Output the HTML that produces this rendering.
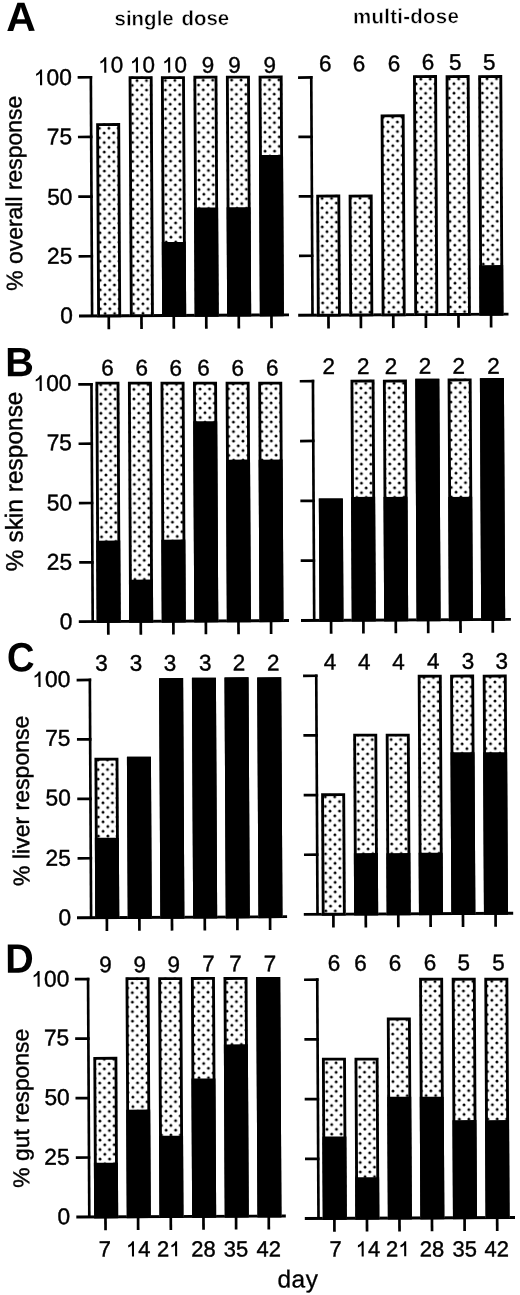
<!DOCTYPE html>
<html><head><meta charset="utf-8"><style>
html,body{margin:0;padding:0;background:#fff;}
body{width:520px;height:1295px;overflow:hidden;}
svg{display:block;font-family:"Liberation Sans", sans-serif;filter:grayscale(1);}
</style></head><body>
<svg width="520" height="1295" viewBox="0 0 520 1295">
<rect width="520" height="1295" fill="#fff"/>
<defs><pattern id="dots" x="106.89" y="132.19" width="9.46" height="9.5" patternUnits="userSpaceOnUse"><circle cx="0" cy="0" r="1.45"/><circle cx="9.46" cy="0" r="1.45"/><circle cx="0" cy="9.5" r="1.45"/><circle cx="9.46" cy="9.5" r="1.45"/><circle cx="4.73" cy="4.75" r="1.45"/></pattern></defs>
<g transform="rotate(-0.3 260 647)" fill="#000">
<g><line x1="93.84" y1="75.04" x2="93.84" y2="315.03" stroke="#000" stroke-width="2.65"/>
<line x1="80.64" y1="76.39" x2="95.16" y2="76.39" stroke="#000" stroke-width="2.7"/>
<line x1="80.64" y1="136.05" x2="95.16" y2="136.05" stroke="#000" stroke-width="2.7"/>
<line x1="80.64" y1="195.71" x2="95.16" y2="195.71" stroke="#000" stroke-width="2.7"/>
<line x1="80.64" y1="255.37" x2="95.16" y2="255.37" stroke="#000" stroke-width="2.7"/>
<line x1="80.74" y1="315.03" x2="290.73" y2="315.03" stroke="#000" stroke-width="2.9"/>
<line x1="110.5" y1="315.03" x2="110.5" y2="328.38" stroke="#000" stroke-width="2.7"/>
<rect x="98.9" y="122.32" width="24" height="192.71" fill="#fff"/>
<rect x="99.2" y="122.62" width="23.4" height="192.41" fill="url(#dots)"/>
<rect x="100.33" y="123.74" width="21.15" height="191.28" fill="none" stroke="#000" stroke-width="2.85"/>
<line x1="143.2" y1="315.03" x2="143.2" y2="328.38" stroke="#000" stroke-width="2.7"/>
<rect x="131.6" y="75.59" width="24" height="239.44" fill="#fff"/>
<rect x="131.9" y="75.89" width="23.4" height="239.14" fill="url(#dots)"/>
<rect x="133.03" y="77.01" width="21.15" height="238.01" fill="none" stroke="#000" stroke-width="2.85"/>
<line x1="175.5" y1="315.03" x2="175.5" y2="328.38" stroke="#000" stroke-width="2.7"/>
<rect x="163.9" y="75.76" width="24" height="239.27" fill="#fff"/>
<rect x="164.2" y="76.06" width="23.4" height="238.97" fill="url(#dots)"/>
<rect x="163.9" y="241.55" width="24" height="73.47"/>
<rect x="165.33" y="77.18" width="21.15" height="237.84" fill="none" stroke="#000" stroke-width="2.85"/>
<line x1="208" y1="315.03" x2="208" y2="328.38" stroke="#000" stroke-width="2.7"/>
<rect x="196.4" y="75.53" width="24" height="239.5" fill="#fff"/>
<rect x="196.7" y="75.83" width="23.4" height="239.2" fill="url(#dots)"/>
<rect x="196.4" y="207.22" width="24" height="107.8"/>
<rect x="197.83" y="76.95" width="21.15" height="238.07" fill="none" stroke="#000" stroke-width="2.85"/>
<line x1="240.5" y1="315.03" x2="240.5" y2="328.38" stroke="#000" stroke-width="2.7"/>
<rect x="228.9" y="75.6" width="24" height="239.43" fill="#fff"/>
<rect x="229.2" y="75.9" width="23.4" height="239.13" fill="url(#dots)"/>
<rect x="228.9" y="207.1" width="24" height="107.93"/>
<rect x="230.33" y="77.02" width="21.15" height="238" fill="none" stroke="#000" stroke-width="2.85"/>
<line x1="273.2" y1="315.03" x2="273.2" y2="328.38" stroke="#000" stroke-width="2.7"/>
<rect x="261.6" y="75.67" width="24" height="239.36" fill="#fff"/>
<rect x="261.9" y="75.97" width="23.4" height="239.06" fill="url(#dots)"/>
<rect x="261.6" y="155.07" width="24" height="159.96"/>
<rect x="263.03" y="77.09" width="21.15" height="237.93" fill="none" stroke="#000" stroke-width="2.85"/>
<path transform="translate(101.2 71.83) scale(22.5 -22.5)" d="M0.268 0H0.362V0.688H0.288C0.252 0.608 0.185 0.54 0.1 0.505V0.41C0.17 0.435 0.23 0.475 0.268 0.522Z"/><text x="113.71" y="71.83" font-size="22.5" stroke="#000" stroke-width="0.4">0</text>
<path transform="translate(132.9 71.99) scale(22.5 -22.5)" d="M0.268 0H0.362V0.688H0.288C0.252 0.608 0.185 0.54 0.1 0.505V0.41C0.17 0.435 0.23 0.475 0.268 0.522Z"/><text x="145.41" y="71.99" font-size="22.5" stroke="#000" stroke-width="0.4">0</text>
<path transform="translate(165.1 72.16) scale(22.5 -22.5)" d="M0.268 0H0.362V0.688H0.288C0.252 0.608 0.185 0.54 0.1 0.505V0.41C0.17 0.435 0.23 0.475 0.268 0.522Z"/><text x="177.61" y="72.16" font-size="22.5" stroke="#000" stroke-width="0.4">0</text>
<text x="204.75" y="72.34" font-size="22.5" stroke="#000" stroke-width="0.4">9</text>
<text x="231.25" y="72.47" font-size="22.5" stroke="#000" stroke-width="0.4">9</text>
<text x="266.55" y="72.66" font-size="22.5" stroke="#000" stroke-width="0.4">9</text>
<path transform="translate(36.85 84.07) scale(22.8 -22.8)" d="M0.268 0H0.362V0.688H0.288C0.252 0.608 0.185 0.54 0.1 0.505V0.41C0.17 0.435 0.23 0.475 0.268 0.522Z"/><text x="49.53" y="84.07" font-size="22.8" stroke="#000" stroke-width="0.4">0</text><text x="62.2" y="84.07" font-size="22.8" stroke="#000" stroke-width="0.4">0</text>
<text x="49.34" y="143.29" font-size="22.8" stroke="#000" stroke-width="0.4">7</text><text x="62.02" y="143.29" font-size="22.8" stroke="#000" stroke-width="0.4">5</text>
<text x="49.47" y="203.61" font-size="22.8" stroke="#000" stroke-width="0.4">5</text><text x="62.15" y="203.61" font-size="22.8" stroke="#000" stroke-width="0.4">0</text>
<text x="49.08" y="262.6" font-size="22.8" stroke="#000" stroke-width="0.4">2</text><text x="61.75" y="262.6" font-size="22.8" stroke="#000" stroke-width="0.4">5</text>
<text x="61.97" y="322.14" font-size="22.8" stroke="#000" stroke-width="0.4">0</text>
<line x1="314.24" y1="76.4" x2="314.24" y2="315.48" stroke="#000" stroke-width="2.65"/>
<line x1="301.04" y1="77.75" x2="315.56" y2="77.75" stroke="#000" stroke-width="2.7"/>
<line x1="301.04" y1="137.18" x2="315.56" y2="137.18" stroke="#000" stroke-width="2.7"/>
<line x1="301.04" y1="196.61" x2="315.56" y2="196.61" stroke="#000" stroke-width="2.7"/>
<line x1="301.04" y1="256.05" x2="315.56" y2="256.05" stroke="#000" stroke-width="2.7"/>
<line x1="299.94" y1="315.48" x2="510.23" y2="315.48" stroke="#000" stroke-width="2.9"/>
<line x1="330.2" y1="315.48" x2="330.2" y2="328.83" stroke="#000" stroke-width="2.7"/>
<rect x="318.6" y="194.96" width="24" height="120.51" fill="#fff"/>
<rect x="318.9" y="195.26" width="23.4" height="120.21" fill="url(#dots)"/>
<rect x="320.03" y="196.39" width="21.15" height="119.09" fill="none" stroke="#000" stroke-width="2.85"/>
<line x1="362.6" y1="315.48" x2="362.6" y2="328.83" stroke="#000" stroke-width="2.7"/>
<rect x="351" y="195.13" width="24" height="120.34" fill="#fff"/>
<rect x="351.3" y="195.43" width="23.4" height="120.04" fill="url(#dots)"/>
<rect x="352.43" y="196.56" width="21.15" height="118.92" fill="none" stroke="#000" stroke-width="2.85"/>
<line x1="395" y1="315.48" x2="395" y2="328.83" stroke="#000" stroke-width="2.7"/>
<rect x="383.4" y="115.11" width="24" height="200.37" fill="#fff"/>
<rect x="383.7" y="115.41" width="23.4" height="200.07" fill="url(#dots)"/>
<rect x="384.83" y="116.53" width="21.15" height="198.95" fill="none" stroke="#000" stroke-width="2.85"/>
<line x1="427.6" y1="315.48" x2="427.6" y2="328.83" stroke="#000" stroke-width="2.7"/>
<rect x="416" y="75.98" width="24" height="239.5" fill="#fff"/>
<rect x="416.3" y="76.28" width="23.4" height="239.2" fill="url(#dots)"/>
<rect x="417.43" y="77.4" width="21.15" height="238.08" fill="none" stroke="#000" stroke-width="2.85"/>
<line x1="460.2" y1="315.48" x2="460.2" y2="328.83" stroke="#000" stroke-width="2.7"/>
<rect x="448.6" y="76.15" width="24" height="239.33" fill="#fff"/>
<rect x="448.9" y="76.45" width="23.4" height="239.03" fill="url(#dots)"/>
<rect x="450.03" y="77.57" width="21.15" height="237.91" fill="none" stroke="#000" stroke-width="2.85"/>
<line x1="492.8" y1="315.48" x2="492.8" y2="328.83" stroke="#000" stroke-width="2.7"/>
<rect x="481.2" y="76.32" width="24" height="239.16" fill="#fff"/>
<rect x="481.5" y="76.62" width="23.4" height="238.86" fill="url(#dots)"/>
<rect x="481.2" y="266.32" width="24" height="49.16"/>
<rect x="482.63" y="77.74" width="21.15" height="237.74" fill="none" stroke="#000" stroke-width="2.85"/>
<text x="322.06" y="71.65" font-size="22.5" stroke="#000" stroke-width="0.4">6</text>
<text x="355.76" y="71.83" font-size="22.5" stroke="#000" stroke-width="0.4">6</text>
<text x="390.66" y="72.01" font-size="22.5" stroke="#000" stroke-width="0.4">6</text>
<text x="424.66" y="70.69" font-size="22.5" stroke="#000" stroke-width="0.4">6</text>
<text x="451.96" y="70.83" font-size="22.5" stroke="#000" stroke-width="0.4">5</text>
<text x="486.06" y="71.01" font-size="22.5" stroke="#000" stroke-width="0.4">5</text>
<line x1="92.84" y1="382.14" x2="92.84" y2="620.72" stroke="#000" stroke-width="2.65"/>
<line x1="79.64" y1="383.49" x2="94.16" y2="383.49" stroke="#000" stroke-width="2.7"/>
<line x1="79.64" y1="442.8" x2="94.16" y2="442.8" stroke="#000" stroke-width="2.7"/>
<line x1="79.64" y1="502.11" x2="94.16" y2="502.11" stroke="#000" stroke-width="2.7"/>
<line x1="79.64" y1="561.42" x2="94.16" y2="561.42" stroke="#000" stroke-width="2.7"/>
<line x1="78.94" y1="620.72" x2="289.13" y2="620.72" stroke="#000" stroke-width="2.9"/>
<line x1="108.4" y1="620.72" x2="108.4" y2="634.07" stroke="#000" stroke-width="2.7"/>
<rect x="96.8" y="380.91" width="24" height="239.82" fill="#fff"/>
<rect x="97.1" y="381.21" width="23.4" height="239.52" fill="url(#dots)"/>
<rect x="96.8" y="539.81" width="24" height="80.92"/>
<rect x="98.23" y="382.33" width="21.15" height="238.39" fill="none" stroke="#000" stroke-width="2.85"/>
<line x1="140.9" y1="620.72" x2="140.9" y2="634.07" stroke="#000" stroke-width="2.7"/>
<rect x="129.3" y="381.08" width="24" height="239.64" fill="#fff"/>
<rect x="129.6" y="381.38" width="23.4" height="239.34" fill="url(#dots)"/>
<rect x="129.3" y="578.98" width="24" height="41.75"/>
<rect x="130.73" y="382.5" width="21.15" height="238.22" fill="none" stroke="#000" stroke-width="2.85"/>
<line x1="173.5" y1="620.72" x2="173.5" y2="634.07" stroke="#000" stroke-width="2.7"/>
<rect x="161.9" y="381.25" width="24" height="239.47" fill="#fff"/>
<rect x="162.2" y="381.55" width="23.4" height="239.17" fill="url(#dots)"/>
<rect x="161.9" y="539.15" width="24" height="81.58"/>
<rect x="163.33" y="382.68" width="21.15" height="238.05" fill="none" stroke="#000" stroke-width="2.85"/>
<line x1="206" y1="620.72" x2="206" y2="634.07" stroke="#000" stroke-width="2.7"/>
<rect x="194.4" y="381.42" width="24" height="239.3" fill="#fff"/>
<rect x="194.7" y="381.72" width="23.4" height="239" fill="url(#dots)"/>
<rect x="194.4" y="420.92" width="24" height="199.8"/>
<rect x="195.83" y="382.85" width="21.15" height="237.88" fill="none" stroke="#000" stroke-width="2.85"/>
<line x1="238.6" y1="620.72" x2="238.6" y2="634.07" stroke="#000" stroke-width="2.7"/>
<rect x="227" y="381.59" width="24" height="239.13" fill="#fff"/>
<rect x="227.3" y="381.89" width="23.4" height="238.83" fill="url(#dots)"/>
<rect x="227" y="459.49" width="24" height="161.23"/>
<rect x="228.43" y="383.02" width="21.15" height="237.71" fill="none" stroke="#000" stroke-width="2.85"/>
<line x1="271.2" y1="620.72" x2="271.2" y2="634.07" stroke="#000" stroke-width="2.7"/>
<rect x="259.6" y="381.76" width="24" height="238.96" fill="#fff"/>
<rect x="259.9" y="382.06" width="23.4" height="238.66" fill="url(#dots)"/>
<rect x="259.6" y="459.66" width="24" height="161.06"/>
<rect x="261.03" y="383.19" width="21.15" height="237.54" fill="none" stroke="#000" stroke-width="2.85"/>
<text x="102.67" y="374.81" font-size="22.5" stroke="#000" stroke-width="0.4">6</text>
<text x="136.97" y="374.98" font-size="22.5" stroke="#000" stroke-width="0.4">6</text>
<text x="170.97" y="375.16" font-size="22.5" stroke="#000" stroke-width="0.4">6</text>
<text x="198.67" y="375.31" font-size="22.5" stroke="#000" stroke-width="0.4">6</text>
<text x="232.87" y="375.49" font-size="22.5" stroke="#000" stroke-width="0.4">6</text>
<text x="267.47" y="375.67" font-size="22.5" stroke="#000" stroke-width="0.4">6</text>
<path transform="translate(34.87 389.77) scale(22.8 -22.8)" d="M0.268 0H0.362V0.688H0.288C0.252 0.608 0.185 0.54 0.1 0.505V0.41C0.17 0.435 0.23 0.475 0.268 0.522Z"/><text x="47.55" y="389.77" font-size="22.8" stroke="#000" stroke-width="0.4">0</text><text x="60.23" y="389.77" font-size="22.8" stroke="#000" stroke-width="0.4">0</text>
<text x="47.74" y="449.13" font-size="22.8" stroke="#000" stroke-width="0.4">7</text><text x="60.42" y="449.13" font-size="22.8" stroke="#000" stroke-width="0.4">5</text>
<text x="47.52" y="509.45" font-size="22.8" stroke="#000" stroke-width="0.4">5</text><text x="60.2" y="509.45" font-size="22.8" stroke="#000" stroke-width="0.4">0</text>
<text x="47.13" y="568.6" font-size="22.8" stroke="#000" stroke-width="0.4">2</text><text x="59.8" y="568.6" font-size="22.8" stroke="#000" stroke-width="0.4">5</text>
<text x="59.8" y="628.13" font-size="22.8" stroke="#000" stroke-width="0.4">0</text>
<line x1="314.34" y1="380.1" x2="314.34" y2="620.68" stroke="#000" stroke-width="2.65"/>
<line x1="301.14" y1="381.45" x2="315.66" y2="381.45" stroke="#000" stroke-width="2.7"/>
<line x1="301.14" y1="441.26" x2="315.66" y2="441.26" stroke="#000" stroke-width="2.7"/>
<line x1="301.14" y1="501.07" x2="315.66" y2="501.07" stroke="#000" stroke-width="2.7"/>
<line x1="301.14" y1="560.88" x2="315.66" y2="560.88" stroke="#000" stroke-width="2.7"/>
<line x1="301.14" y1="620.68" x2="511.04" y2="620.68" stroke="#000" stroke-width="2.9"/>
<line x1="331.21" y1="620.68" x2="331.21" y2="634.03" stroke="#000" stroke-width="2.7"/>
<rect x="319.61" y="498.87" width="24" height="121.81" fill="#fff"/>
<rect x="319.61" y="498.87" width="24" height="121.81"/>
<rect x="321.03" y="500.3" width="21.15" height="120.38" fill="none" stroke="#000" stroke-width="2.85"/>
<line x1="363.51" y1="620.68" x2="363.51" y2="634.03" stroke="#000" stroke-width="2.7"/>
<rect x="351.91" y="380.15" width="24" height="240.54" fill="#fff"/>
<rect x="352.21" y="380.45" width="23.4" height="240.24" fill="url(#dots)"/>
<rect x="351.91" y="497.44" width="24" height="123.24"/>
<rect x="353.33" y="381.57" width="21.15" height="239.11" fill="none" stroke="#000" stroke-width="2.85"/>
<line x1="395.91" y1="620.68" x2="395.91" y2="634.03" stroke="#000" stroke-width="2.7"/>
<rect x="384.31" y="380.31" width="24" height="240.37" fill="#fff"/>
<rect x="384.61" y="380.61" width="23.4" height="240.07" fill="url(#dots)"/>
<rect x="384.31" y="497.61" width="24" height="123.07"/>
<rect x="385.73" y="381.74" width="21.15" height="238.94" fill="none" stroke="#000" stroke-width="2.85"/>
<line x1="428.31" y1="620.68" x2="428.31" y2="634.03" stroke="#000" stroke-width="2.7"/>
<rect x="416.71" y="379.58" width="24" height="241.1" fill="#fff"/>
<rect x="416.71" y="379.58" width="24" height="241.1"/>
<rect x="418.13" y="381.01" width="21.15" height="239.67" fill="none" stroke="#000" stroke-width="2.85"/>
<line x1="460.61" y1="620.68" x2="460.61" y2="634.03" stroke="#000" stroke-width="2.7"/>
<rect x="449.01" y="379.55" width="24" height="241.13" fill="#fff"/>
<rect x="449.31" y="379.85" width="23.4" height="240.83" fill="url(#dots)"/>
<rect x="449.01" y="497.95" width="24" height="122.73"/>
<rect x="450.43" y="380.98" width="21.15" height="239.71" fill="none" stroke="#000" stroke-width="2.85"/>
<line x1="492.9" y1="620.68" x2="492.9" y2="634.03" stroke="#000" stroke-width="2.7"/>
<rect x="481.3" y="379.32" width="24" height="241.36" fill="#fff"/>
<rect x="481.3" y="379.32" width="24" height="241.36"/>
<rect x="482.73" y="380.75" width="21.15" height="239.94" fill="none" stroke="#000" stroke-width="2.85"/>
<text x="323.87" y="374.36" font-size="22.5" stroke="#000" stroke-width="0.4">2</text>
<text x="358.47" y="374.54" font-size="22.5" stroke="#000" stroke-width="0.4">2</text>
<text x="386.17" y="374.69" font-size="22.5" stroke="#000" stroke-width="0.4">2</text>
<text x="420.07" y="374.67" font-size="22.5" stroke="#000" stroke-width="0.4">2</text>
<text x="453.87" y="374.84" font-size="22.5" stroke="#000" stroke-width="0.4">2</text>
<text x="488.67" y="375.03" font-size="22.5" stroke="#000" stroke-width="0.4">2</text>
<line x1="89.68" y1="677.73" x2="89.68" y2="916.81" stroke="#000" stroke-width="2.65"/>
<line x1="76.48" y1="679.08" x2="91.01" y2="679.08" stroke="#000" stroke-width="2.7"/>
<line x1="76.48" y1="738.51" x2="91.01" y2="738.51" stroke="#000" stroke-width="2.7"/>
<line x1="76.48" y1="797.95" x2="91.01" y2="797.95" stroke="#000" stroke-width="2.7"/>
<line x1="76.48" y1="857.38" x2="91.01" y2="857.38" stroke="#000" stroke-width="2.7"/>
<line x1="75.59" y1="916.81" x2="285.68" y2="916.81" stroke="#000" stroke-width="2.9"/>
<line x1="105.45" y1="916.81" x2="105.45" y2="930.16" stroke="#000" stroke-width="2.7"/>
<rect x="93.85" y="757" width="24" height="159.82" fill="#fff"/>
<rect x="94.15" y="757.3" width="23.4" height="159.52" fill="url(#dots)"/>
<rect x="93.85" y="837" width="24" height="79.82"/>
<rect x="95.28" y="758.42" width="21.15" height="158.39" fill="none" stroke="#000" stroke-width="2.85"/>
<line x1="137.95" y1="916.81" x2="137.95" y2="930.16" stroke="#000" stroke-width="2.7"/>
<rect x="126.35" y="756.17" width="24" height="160.64" fill="#fff"/>
<rect x="126.35" y="756.17" width="24" height="160.64"/>
<rect x="127.78" y="757.59" width="21.15" height="159.22" fill="none" stroke="#000" stroke-width="2.85"/>
<line x1="170.55" y1="916.81" x2="170.55" y2="930.16" stroke="#000" stroke-width="2.7"/>
<rect x="158.95" y="677.64" width="24" height="239.17" fill="#fff"/>
<rect x="158.95" y="677.64" width="24" height="239.17"/>
<rect x="160.38" y="679.06" width="21.15" height="237.75" fill="none" stroke="#000" stroke-width="2.85"/>
<line x1="203.35" y1="916.81" x2="203.35" y2="930.16" stroke="#000" stroke-width="2.7"/>
<rect x="191.75" y="677.41" width="24" height="239.4" fill="#fff"/>
<rect x="191.75" y="677.41" width="24" height="239.4"/>
<rect x="193.18" y="678.84" width="21.15" height="237.98" fill="none" stroke="#000" stroke-width="2.85"/>
<line x1="235.95" y1="916.81" x2="235.95" y2="930.16" stroke="#000" stroke-width="2.7"/>
<rect x="224.35" y="677.28" width="24" height="239.53" fill="#fff"/>
<rect x="224.35" y="677.28" width="24" height="239.53"/>
<rect x="225.78" y="678.71" width="21.15" height="238.11" fill="none" stroke="#000" stroke-width="2.85"/>
<line x1="268.65" y1="916.81" x2="268.65" y2="930.16" stroke="#000" stroke-width="2.7"/>
<rect x="257.05" y="677.45" width="24" height="239.36" fill="#fff"/>
<rect x="257.05" y="677.45" width="24" height="239.36"/>
<rect x="258.48" y="678.88" width="21.15" height="237.93" fill="none" stroke="#000" stroke-width="2.85"/>
<text x="95.12" y="669.97" font-size="22.5" stroke="#000" stroke-width="0.4">3</text>
<text x="129.62" y="670.15" font-size="22.5" stroke="#000" stroke-width="0.4">3</text>
<text x="163.72" y="670.33" font-size="22.5" stroke="#000" stroke-width="0.4">3</text>
<text x="198.82" y="670.11" font-size="22.5" stroke="#000" stroke-width="0.4">3</text>
<text x="232.62" y="670.29" font-size="22.5" stroke="#000" stroke-width="0.4">2</text>
<text x="266.92" y="670.47" font-size="22.5" stroke="#000" stroke-width="0.4">2</text>
<path transform="translate(32.12 685.96) scale(22.8 -22.8)" d="M0.268 0H0.362V0.688H0.288C0.252 0.608 0.185 0.54 0.1 0.505V0.41C0.17 0.435 0.23 0.475 0.268 0.522Z"/><text x="44.8" y="685.96" font-size="22.8" stroke="#000" stroke-width="0.4">0</text><text x="57.48" y="685.96" font-size="22.8" stroke="#000" stroke-width="0.4">0</text>
<text x="44.64" y="744.67" font-size="22.8" stroke="#000" stroke-width="0.4">7</text><text x="57.32" y="744.67" font-size="22.8" stroke="#000" stroke-width="0.4">5</text>
<text x="44.77" y="804.44" font-size="22.8" stroke="#000" stroke-width="0.4">5</text><text x="57.45" y="804.44" font-size="22.8" stroke="#000" stroke-width="0.4">0</text>
<text x="44.38" y="864.59" font-size="22.8" stroke="#000" stroke-width="0.4">2</text><text x="57.05" y="864.59" font-size="22.8" stroke="#000" stroke-width="0.4">5</text>
<text x="57.1" y="924.12" font-size="22.8" stroke="#000" stroke-width="0.4">0</text>
<line x1="316.1" y1="674.71" x2="316.1" y2="914.6" stroke="#000" stroke-width="2.65"/>
<line x1="302.9" y1="676.06" x2="317.42" y2="676.06" stroke="#000" stroke-width="2.7"/>
<line x1="302.9" y1="735.7" x2="317.42" y2="735.7" stroke="#000" stroke-width="2.7"/>
<line x1="302.9" y1="795.33" x2="317.42" y2="795.33" stroke="#000" stroke-width="2.7"/>
<line x1="302.9" y1="854.96" x2="317.42" y2="854.96" stroke="#000" stroke-width="2.7"/>
<line x1="302.4" y1="914.6" x2="511.8" y2="914.6" stroke="#000" stroke-width="2.9"/>
<line x1="331.97" y1="914.6" x2="331.97" y2="927.95" stroke="#000" stroke-width="2.7"/>
<rect x="320.37" y="793.68" width="24" height="120.92" fill="#fff"/>
<rect x="320.67" y="793.98" width="23.4" height="120.62" fill="url(#dots)"/>
<rect x="321.79" y="795.11" width="21.15" height="119.49" fill="none" stroke="#000" stroke-width="2.85"/>
<line x1="364.37" y1="914.6" x2="364.37" y2="927.95" stroke="#000" stroke-width="2.7"/>
<rect x="352.77" y="734.25" width="24" height="180.34" fill="#fff"/>
<rect x="353.07" y="734.55" width="23.4" height="180.04" fill="url(#dots)"/>
<rect x="352.77" y="853.65" width="24" height="60.95"/>
<rect x="354.19" y="735.68" width="21.15" height="178.92" fill="none" stroke="#000" stroke-width="2.85"/>
<line x1="396.87" y1="914.6" x2="396.87" y2="927.95" stroke="#000" stroke-width="2.7"/>
<rect x="385.27" y="734.42" width="24" height="180.17" fill="#fff"/>
<rect x="385.57" y="734.72" width="23.4" height="179.87" fill="url(#dots)"/>
<rect x="385.27" y="853.82" width="24" height="60.78"/>
<rect x="386.69" y="735.85" width="21.15" height="178.75" fill="none" stroke="#000" stroke-width="2.85"/>
<line x1="429.17" y1="914.6" x2="429.17" y2="927.95" stroke="#000" stroke-width="2.7"/>
<rect x="417.57" y="675.69" width="24" height="238.9" fill="#fff"/>
<rect x="417.87" y="675.99" width="23.4" height="238.6" fill="url(#dots)"/>
<rect x="417.57" y="853.59" width="24" height="61.01"/>
<rect x="418.99" y="677.12" width="21.15" height="237.48" fill="none" stroke="#000" stroke-width="2.85"/>
<line x1="461.57" y1="914.6" x2="461.57" y2="927.95" stroke="#000" stroke-width="2.7"/>
<rect x="449.97" y="675.66" width="24" height="238.93" fill="#fff"/>
<rect x="450.27" y="675.96" width="23.4" height="238.63" fill="url(#dots)"/>
<rect x="449.97" y="753.36" width="24" height="161.24"/>
<rect x="451.39" y="677.09" width="21.15" height="237.51" fill="none" stroke="#000" stroke-width="2.85"/>
<line x1="494.17" y1="914.6" x2="494.17" y2="927.95" stroke="#000" stroke-width="2.7"/>
<rect x="482.57" y="675.83" width="24" height="238.76" fill="#fff"/>
<rect x="482.87" y="676.13" width="23.4" height="238.46" fill="url(#dots)"/>
<rect x="482.57" y="753.53" width="24" height="161.07"/>
<rect x="483.99" y="677.26" width="21.15" height="237.34" fill="none" stroke="#000" stroke-width="2.85"/>
<text x="323.63" y="669.77" font-size="22.5" stroke="#000" stroke-width="0.4">4</text>
<text x="357.83" y="669.95" font-size="22.5" stroke="#000" stroke-width="0.4">4</text>
<text x="392.13" y="670.12" font-size="22.5" stroke="#000" stroke-width="0.4">4</text>
<text x="426.83" y="669.71" font-size="22.5" stroke="#000" stroke-width="0.4">4</text>
<text x="461.53" y="669.89" font-size="22.5" stroke="#000" stroke-width="0.4">3</text>
<text x="495.33" y="670.07" font-size="22.5" stroke="#000" stroke-width="0.4">3</text>
<line x1="86.32" y1="976.82" x2="86.32" y2="1216.1" stroke="#000" stroke-width="2.65"/>
<line x1="73.12" y1="978.17" x2="87.64" y2="978.17" stroke="#000" stroke-width="2.7"/>
<line x1="73.12" y1="1037.65" x2="87.64" y2="1037.65" stroke="#000" stroke-width="2.7"/>
<line x1="73.12" y1="1097.13" x2="87.64" y2="1097.13" stroke="#000" stroke-width="2.7"/>
<line x1="73.12" y1="1156.62" x2="87.64" y2="1156.62" stroke="#000" stroke-width="2.7"/>
<line x1="73.32" y1="1216.1" x2="282.82" y2="1216.1" stroke="#000" stroke-width="2.9"/>
<line x1="102.49" y1="1216.1" x2="102.49" y2="1229.45" stroke="#000" stroke-width="2.7"/>
<rect x="91.19" y="1056.09" width="24" height="160.01" fill="#fff"/>
<rect x="91.49" y="1056.39" width="23.4" height="159.71" fill="url(#dots)"/>
<rect x="91.19" y="1161.88" width="24" height="54.21"/>
<rect x="92.61" y="1057.51" width="21.15" height="158.59" fill="none" stroke="#000" stroke-width="2.85"/>
<line x1="135.09" y1="1216.1" x2="135.09" y2="1229.45" stroke="#000" stroke-width="2.7"/>
<rect x="123.79" y="976.56" width="24" height="239.54" fill="#fff"/>
<rect x="124.09" y="976.86" width="23.4" height="239.24" fill="url(#dots)"/>
<rect x="123.79" y="1108.96" width="24" height="107.14"/>
<rect x="125.21" y="977.98" width="21.15" height="238.12" fill="none" stroke="#000" stroke-width="2.85"/>
<line x1="167.79" y1="1216.1" x2="167.79" y2="1229.45" stroke="#000" stroke-width="2.7"/>
<rect x="156.49" y="976.73" width="24" height="239.37" fill="#fff"/>
<rect x="156.79" y="977.03" width="23.4" height="239.07" fill="url(#dots)"/>
<rect x="156.49" y="1135.33" width="24" height="80.77"/>
<rect x="157.91" y="978.15" width="21.15" height="237.94" fill="none" stroke="#000" stroke-width="2.85"/>
<line x1="200.48" y1="1216.1" x2="200.48" y2="1229.45" stroke="#000" stroke-width="2.7"/>
<rect x="189.18" y="976.7" width="24" height="239.4" fill="#fff"/>
<rect x="189.48" y="977" width="23.4" height="239.1" fill="url(#dots)"/>
<rect x="189.18" y="1078.2" width="24" height="137.9"/>
<rect x="190.61" y="978.12" width="21.15" height="237.97" fill="none" stroke="#000" stroke-width="2.85"/>
<line x1="233.08" y1="1216.1" x2="233.08" y2="1229.45" stroke="#000" stroke-width="2.7"/>
<rect x="221.78" y="976.87" width="24" height="239.23" fill="#fff"/>
<rect x="222.08" y="977.17" width="23.4" height="238.93" fill="url(#dots)"/>
<rect x="221.78" y="1044.27" width="24" height="171.83"/>
<rect x="223.21" y="978.3" width="21.15" height="237.8" fill="none" stroke="#000" stroke-width="2.85"/>
<line x1="265.78" y1="1216.1" x2="265.78" y2="1229.45" stroke="#000" stroke-width="2.7"/>
<rect x="254.48" y="977.04" width="24" height="239.06" fill="#fff"/>
<rect x="254.48" y="977.04" width="24" height="239.06"/>
<rect x="255.91" y="978.47" width="21.15" height="237.63" fill="none" stroke="#000" stroke-width="2.85"/>
<text x="97.64" y="971.39" font-size="22.5" stroke="#000" stroke-width="0.4">9</text>
<text x="131.84" y="971.57" font-size="22.5" stroke="#000" stroke-width="0.4">9</text>
<text x="165.74" y="971.74" font-size="22.5" stroke="#000" stroke-width="0.4">9</text>
<text x="200.55" y="971.03" font-size="22.5" stroke="#000" stroke-width="0.4">7</text>
<text x="227.65" y="971.17" font-size="22.5" stroke="#000" stroke-width="0.4">7</text>
<text x="261.95" y="971.35" font-size="22.5" stroke="#000" stroke-width="0.4">7</text>
<path transform="translate(29.65 985.55) scale(22.8 -22.8)" d="M0.268 0H0.362V0.688H0.288C0.252 0.608 0.185 0.54 0.1 0.505V0.41C0.17 0.435 0.23 0.475 0.268 0.522Z"/><text x="42.33" y="985.55" font-size="22.8" stroke="#000" stroke-width="0.4">0</text><text x="55.01" y="985.55" font-size="22.8" stroke="#000" stroke-width="0.4">0</text>
<text x="41.82" y="1044.31" font-size="22.8" stroke="#000" stroke-width="0.4">7</text><text x="54.5" y="1044.31" font-size="22.8" stroke="#000" stroke-width="0.4">5</text>
<text x="42.01" y="1103.98" font-size="22.8" stroke="#000" stroke-width="0.4">5</text><text x="54.68" y="1103.98" font-size="22.8" stroke="#000" stroke-width="0.4">0</text>
<text x="41.61" y="1163.58" font-size="22.8" stroke="#000" stroke-width="0.4">2</text><text x="54.29" y="1163.58" font-size="22.8" stroke="#000" stroke-width="0.4">5</text>
<text x="54.41" y="1223.11" font-size="22.8" stroke="#000" stroke-width="0.4">0</text>
<line x1="315.51" y1="978.62" x2="315.51" y2="1218.8" stroke="#000" stroke-width="2.65"/>
<line x1="302.31" y1="979.97" x2="316.83" y2="979.97" stroke="#000" stroke-width="2.7"/>
<line x1="302.31" y1="1039.67" x2="316.83" y2="1039.67" stroke="#000" stroke-width="2.7"/>
<line x1="302.31" y1="1099.38" x2="316.83" y2="1099.38" stroke="#000" stroke-width="2.7"/>
<line x1="302.31" y1="1159.09" x2="316.83" y2="1159.09" stroke="#000" stroke-width="2.7"/>
<line x1="301.81" y1="1218.8" x2="512" y2="1218.8" stroke="#000" stroke-width="2.9"/>
<line x1="331.38" y1="1218.8" x2="331.38" y2="1232.15" stroke="#000" stroke-width="2.7"/>
<rect x="319.78" y="1058.08" width="24" height="160.71" fill="#fff"/>
<rect x="320.08" y="1058.38" width="23.4" height="160.41" fill="url(#dots)"/>
<rect x="319.78" y="1136.88" width="24" height="81.92"/>
<rect x="321.2" y="1059.51" width="21.15" height="159.29" fill="none" stroke="#000" stroke-width="2.85"/>
<line x1="363.97" y1="1218.8" x2="363.97" y2="1232.15" stroke="#000" stroke-width="2.7"/>
<rect x="352.37" y="1058.25" width="24" height="160.54" fill="#fff"/>
<rect x="352.67" y="1058.55" width="23.4" height="160.24" fill="url(#dots)"/>
<rect x="352.37" y="1177.85" width="24" height="40.95"/>
<rect x="353.8" y="1059.68" width="21.15" height="159.12" fill="none" stroke="#000" stroke-width="2.85"/>
<line x1="396.47" y1="1218.8" x2="396.47" y2="1232.15" stroke="#000" stroke-width="2.7"/>
<rect x="384.87" y="1018.23" width="24" height="200.57" fill="#fff"/>
<rect x="385.17" y="1018.53" width="23.4" height="200.27" fill="url(#dots)"/>
<rect x="384.87" y="1097.42" width="24" height="121.37"/>
<rect x="386.3" y="1019.65" width="21.15" height="199.15" fill="none" stroke="#000" stroke-width="2.85"/>
<line x1="428.97" y1="1218.8" x2="428.97" y2="1232.15" stroke="#000" stroke-width="2.7"/>
<rect x="417.37" y="978.7" width="24" height="240.1" fill="#fff"/>
<rect x="417.67" y="979" width="23.4" height="239.8" fill="url(#dots)"/>
<rect x="417.37" y="1097.59" width="24" height="121.2"/>
<rect x="418.8" y="980.12" width="21.15" height="238.68" fill="none" stroke="#000" stroke-width="2.85"/>
<line x1="461.57" y1="1218.8" x2="461.57" y2="1232.15" stroke="#000" stroke-width="2.7"/>
<rect x="449.97" y="978.87" width="24" height="239.93" fill="#fff"/>
<rect x="450.27" y="979.17" width="23.4" height="239.63" fill="url(#dots)"/>
<rect x="449.97" y="1121.16" width="24" height="97.63"/>
<rect x="451.4" y="980.29" width="21.15" height="238.51" fill="none" stroke="#000" stroke-width="2.85"/>
<line x1="494.17" y1="1218.8" x2="494.17" y2="1232.15" stroke="#000" stroke-width="2.7"/>
<rect x="482.57" y="979.04" width="24" height="239.76" fill="#fff"/>
<rect x="482.87" y="979.34" width="23.4" height="239.46" fill="url(#dots)"/>
<rect x="482.57" y="1121.34" width="24" height="97.46"/>
<rect x="484" y="980.46" width="21.15" height="238.34" fill="none" stroke="#000" stroke-width="2.85"/>
<text x="325.95" y="971.18" font-size="22.5" stroke="#000" stroke-width="0.4">6</text>
<text x="352.55" y="971.32" font-size="22.5" stroke="#000" stroke-width="0.4">6</text>
<text x="387.15" y="971.5" font-size="22.5" stroke="#000" stroke-width="0.4">6</text>
<text x="422.15" y="971.09" font-size="22.5" stroke="#000" stroke-width="0.4">6</text>
<text x="455.75" y="971.26" font-size="22.5" stroke="#000" stroke-width="0.4">5</text>
<text x="490.65" y="971.44" font-size="22.5" stroke="#000" stroke-width="0.4">5</text>
<text transform="translate(9.56 29.78) scale(1.0 1)" font-size="41" font-weight="bold">A</text>
<text transform="translate(6.56 374.87) scale(0.97 1)" font-size="41" font-weight="bold">B</text>
<text transform="translate(6.95 670.08) scale(0.935 1)" font-size="41" font-weight="bold">C</text>
<text transform="translate(3.45 971.36) scale(0.965 1)" font-size="41" font-weight="bold">D</text>
<text x="117.76" y="24.85" font-size="20.5" font-weight="bold" word-spacing="2" stroke="#fff" stroke-width="0.45">single dose</text>
<text x="356.26" y="24.1" font-size="20.5" font-weight="bold" letter-spacing="0.25" stroke="#fff" stroke-width="0.45">multi-dose</text>
<text transform="translate(24.27 289.56) rotate(-90)" stroke="#000" stroke-width="0.4" font-size="22.8" textLength="195.1" lengthAdjust="spacingAndGlyphs">% overall response</text>
<text transform="translate(23.3 569.96) rotate(-90)" stroke="#000" stroke-width="0.4" font-size="24.4" textLength="179.7" lengthAdjust="spacingAndGlyphs">% skin response</text>
<text transform="translate(28.15 884.79) rotate(-90)" stroke="#000" stroke-width="0.4" font-size="23" textLength="170.4" lengthAdjust="spacingAndGlyphs">% liver response</text>
<text transform="translate(26.37 1186.48) rotate(-90)" stroke="#000" stroke-width="0.4" font-size="22.9" textLength="158.9" lengthAdjust="spacingAndGlyphs">% gut response</text>
<text x="95.6" y="1255.58" font-size="22" stroke="#000" stroke-width="0.4">7</text>
<path transform="translate(122.88 1255.75) scale(22 -22)" d="M0.268 0H0.362V0.688H0.288C0.252 0.608 0.185 0.54 0.1 0.505V0.41C0.17 0.435 0.23 0.475 0.268 0.522Z"/><text x="135.11" y="1255.75" font-size="22" stroke="#000" stroke-width="0.4">4</text>
<text x="153.78" y="1255.92" font-size="22" stroke="#000" stroke-width="0.4">2</text><path transform="translate(166.01 1255.92) scale(22 -22)" d="M0.268 0H0.362V0.688H0.288C0.252 0.608 0.185 0.54 0.1 0.505V0.41C0.17 0.435 0.23 0.475 0.268 0.522Z"/>
<text x="188.13" y="1256.1" font-size="22" stroke="#000" stroke-width="0.4">2</text><text x="200.36" y="1256.1" font-size="22" stroke="#000" stroke-width="0.4">8</text>
<text x="220.53" y="1256.27" font-size="22" stroke="#000" stroke-width="0.4">3</text><text x="232.76" y="1256.27" font-size="22" stroke="#000" stroke-width="0.4">5</text>
<text x="253.23" y="1256.44" font-size="22" stroke="#000" stroke-width="0.4">4</text><text x="265.46" y="1256.44" font-size="22" stroke="#000" stroke-width="0.4">2</text>
<text x="326.19" y="1256.79" font-size="22" stroke="#000" stroke-width="0.4">7</text>
<path transform="translate(352.58 1256.96) scale(22 -22)" d="M0.268 0H0.362V0.688H0.288C0.252 0.608 0.185 0.54 0.1 0.505V0.41C0.17 0.435 0.23 0.475 0.268 0.522Z"/><text x="364.81" y="1256.96" font-size="22" stroke="#000" stroke-width="0.4">4</text>
<text x="382.88" y="1257.12" font-size="22" stroke="#000" stroke-width="0.4">2</text><path transform="translate(395.11 1257.12) scale(22 -22)" d="M0.268 0H0.362V0.688H0.288C0.252 0.608 0.185 0.54 0.1 0.505V0.41C0.17 0.435 0.23 0.475 0.268 0.522Z"/>
<text x="416.57" y="1257.29" font-size="22" stroke="#000" stroke-width="0.4">2</text><text x="428.81" y="1257.29" font-size="22" stroke="#000" stroke-width="0.4">8</text>
<text x="449.22" y="1257.46" font-size="22" stroke="#000" stroke-width="0.4">3</text><text x="461.46" y="1257.46" font-size="22" stroke="#000" stroke-width="0.4">5</text>
<text x="481.27" y="1257.63" font-size="22" stroke="#000" stroke-width="0.4">4</text><text x="493.51" y="1257.63" font-size="22" stroke="#000" stroke-width="0.4">2</text>
<text x="274.05" y="1287.68" font-size="24.5" letter-spacing="0.5" stroke="#000" stroke-width="0.3">day</text></g>
</g>
</svg>
</body></html>
